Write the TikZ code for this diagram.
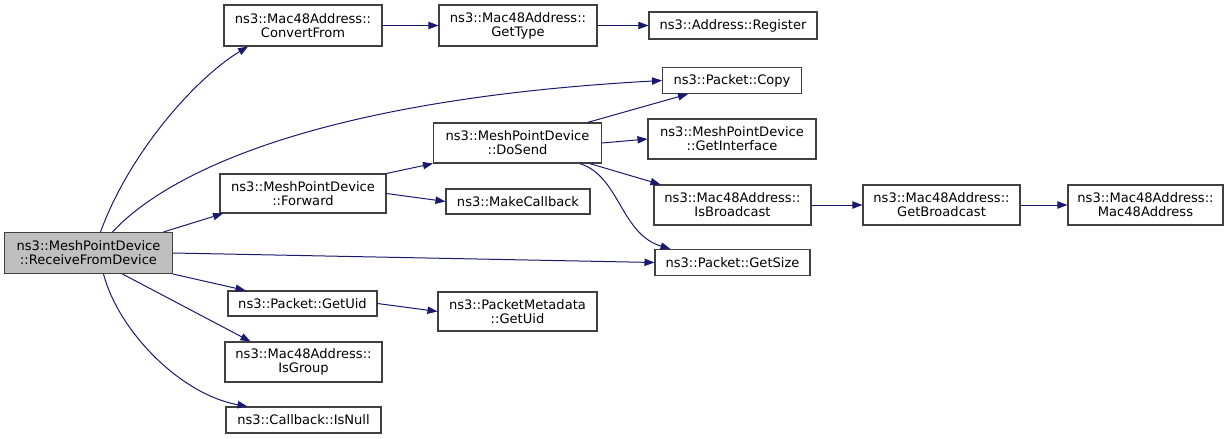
\documentclass[tikz,border=0pt]{standalone}
\usepackage{fontspec}
\setmainfont{DejaVu Sans}
\usepackage{xcolor}
\usepackage{tikz}
\usetikzlibrary{arrows.meta}

\definecolor{edgeblue}{HTML}{191970}
\definecolor{boxgray}{HTML}{404040}
\definecolor{startfill}{HTML}{BFBFBF}

\begin{document}
\begin{tikzpicture}[
 x=0.75pt, y=-0.75pt,
 fn/.style={rectangle, draw=boxgray, line width=0.8pt, fill=white, align=center, inner sep=0pt, font=\fontsize{9.8}{10.6}\selectfont},
 startfn/.style={fn, fill=startfill},
 call/.style={-{Triangle[length=7.5pt,width=5.5pt]}, draw=edgeblue, line width=0.75pt}
 ]
 \useasboundingbox (0,0) rectangle (1229,439);

 % Caller
 \node[startfn, minimum width=168*0.75pt, minimum height=41*0.75pt] (recv) at (88.5,253) {ns3::MeshPointDevice\\::ReceiveFromDevice};

 % Second column
 \node[fn, minimum width=158*0.75pt, minimum height=41*0.75pt] (convfrom) at (303,25.5) {ns3::Mac48Address::\\ConvertFrom};
 \node[fn, minimum width=166*0.75pt, minimum height=39*0.75pt] (forward) at (303,193.5) {ns3::MeshPointDevice\\::Forward};
 \node[fn, minimum width=149*0.75pt, minimum height=25*0.75pt] (pktuid) at (302.5,303.5) {ns3::Packet::GetUid};
 \node[fn, minimum width=157*0.75pt, minimum height=40*0.75pt] (isgroup) at (303.5,362) {ns3::Mac48Address::\\IsGroup};
 \node[fn, minimum width=155*0.75pt, minimum height=26*0.75pt] (isnull) at (303.5,420) {ns3::Callback::IsNull};

 % Third column
 \node[fn, minimum width=158*0.75pt, minimum height=41*0.75pt] (gettype) at (518,25.5) {ns3::Mac48Address::\\GetType};
 \node[fn, minimum width=168*0.75pt, minimum height=40*0.75pt] (dosend) at (517.5,143) {ns3::MeshPointDevice\\::DoSend};
 \node[fn, minimum width=144*0.75pt, minimum height=25*0.75pt] (makecb) at (518,201.5) {ns3::MakeCallback};
 \node[fn, minimum width=159*0.75pt, minimum height=39*0.75pt] (metauid) at (517.5,311.5) {ns3::PacketMetadata\\::GetUid};

 % Fourth column
 \node[fn, minimum width=168*0.75pt, minimum height=27*0.75pt] (register) at (733,25.5) {ns3::Address::Register};
 \node[fn, minimum width=139*0.75pt, minimum height=26*0.75pt] (copy) at (732,80.5) {ns3::Packet::Copy};
 \node[fn, minimum width=168*0.75pt, minimum height=40*0.75pt] (getiface) at (732,139) {ns3::MeshPointDevice\\::GetInterface};
 \node[fn, minimum width=157*0.75pt, minimum height=40*0.75pt] (isbcast) at (732.5,205) {ns3::Mac48Address::\\IsBroadcast};
 \node[fn, minimum width=155*0.75pt, minimum height=26*0.75pt] (getsize) at (732.5,262.5) {ns3::Packet::GetSize};

 % Fifth and sixth column
 \node[fn, minimum width=157*0.75pt, minimum height=40*0.75pt] (getbcast) at (941.5,205) {ns3::Mac48Address::\\GetBroadcast};
 \node[fn, minimum width=155*0.75pt, minimum height=40*0.75pt] (macaddr) at (1145.5,205) {ns3::Mac48Address::\\Mac48Address};

 % Calls from ReceiveFromDevice
 \draw[call] ([xshift=12*0.75pt]recv.north) .. controls +(30,-82) and +(-50,30) .. ([xshift=-55*0.75pt]convfrom.south);
 \draw[call] ([xshift=24*0.75pt]recv.north) .. controls +(48,-52) and +(-363,20) .. (copy.west);
 \draw[call] ([xshift=75*0.75pt]recv.north) -- ([xshift=-80*0.75pt]forward.south);
 \draw[call] (recv.east) -- (getsize.west);
 \draw[call] (recv.south east) -- ([xshift=-57*0.75pt]pktuid.north);
 \draw[call] ([xshift=34*0.75pt]recv.south) -- ([xshift=-53*0.75pt]isgroup.north);
 \draw[call] ([xshift=15*0.75pt]recv.south) .. controls +(15,57) and +(-67,-12) .. ([xshift=-56*0.75pt]isnull.north);

 % Further calls
 \draw[call] (convfrom.east) -- (gettype.west);
 \draw[call] (gettype.east) -- (register.west);
 \draw[call] (forward.north east) -- (dosend.south west);
 \draw[call] (forward.east) -- (makecb.west);
 \draw[call] ([xshift=70*0.75pt]dosend.north) -- ([xshift=-44*0.75pt]copy.south);
 \draw[call] (dosend.east) -- (getiface.west);
 \draw[call] ([xshift=72*0.75pt]dosend.south) -- ([xshift=-72*0.75pt]isbcast.north);
 \draw[call] ([xshift=62*0.75pt]dosend.south) .. controls +(40,12) and +(-50,-15) .. ([xshift=-62*0.75pt]getsize.north);
 \draw[call] (isbcast.east) -- (getbcast.west);
 \draw[call] (getbcast.east) -- (macaddr.west);
 \draw[call] (pktuid.east) -- (metauid.west);
\end{tikzpicture}
\end{document}
